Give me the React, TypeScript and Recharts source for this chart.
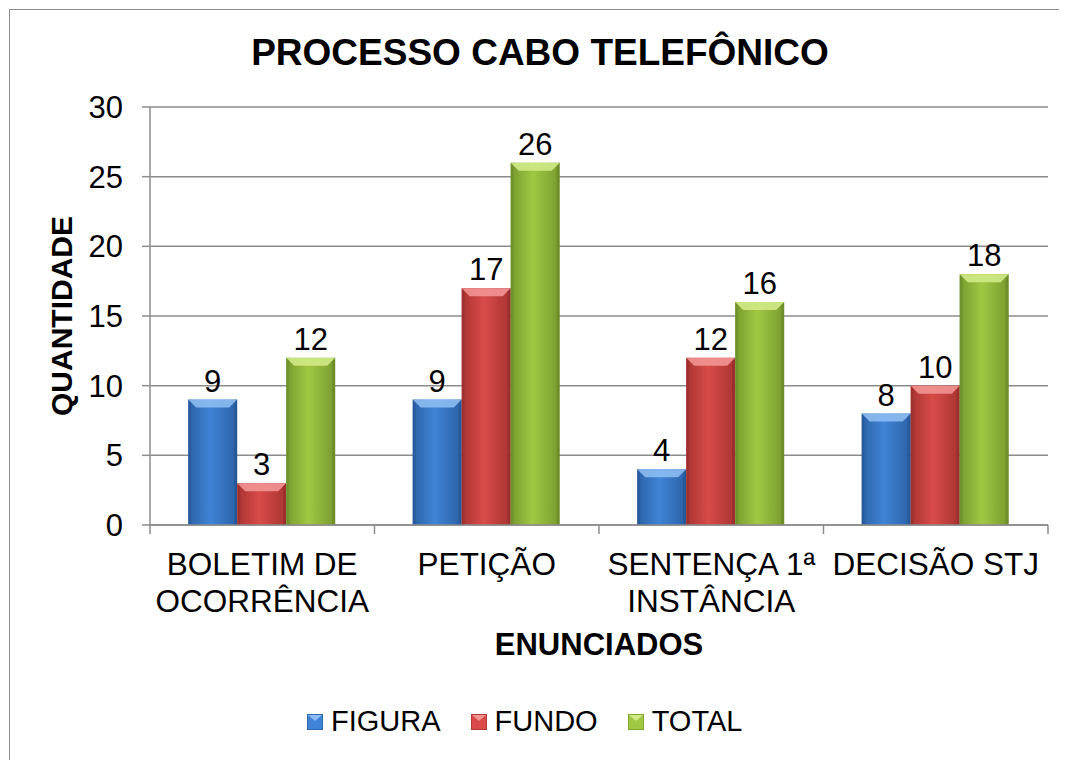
import React from 'react';
import { BarChart, Bar, XAxis, YAxis, CartesianGrid, LabelList, Label } from 'recharts';

const categories = ['BOLETIM DE\nOCORRÊNCIA', 'PETIÇÃO', 'SENTENÇA 1ª\nINSTÂNCIA', 'DECISÃO STJ'];
const figura = [9, 9, 4, 8];
const fundo = [3, 17, 12, 10];
const total = [12, 26, 16, 18];
const yTicks = [0, 5, 10, 15, 20, 25, 30];

const FONT = '"Liberation Sans", Arial, sans-serif';
const W = 1059;
const H = 752;
const MARGIN = { top: 99, right: 19, bottom: 135, left: 0 };
const Y_AXIS_W = 142;
const X_AXIS_H = 100;
const PLOT_W = W - MARGIN.left - MARGIN.right - Y_AXIS_W;
const BAND = PLOT_W / categories.length;
const GRAY = '#8c8c8c';

const series = [
  { key: 'figura', name: 'FIGURA', mid: '#3f84d6', edge: '#2c61a6', light: '#8cbcf2', dark: '#1f4d8a' },
  { key: 'fundo', name: 'FUNDO', mid: '#d84b48', edge: '#a83432', light: '#f29592', dark: '#8a2826' },
  { key: 'total', name: 'TOTAL', mid: '#a0c843', edge: '#789a2f', light: '#d0ea86', dark: '#5f7d22' },
];

const data = categories.map((name, i) => ({
  name,
  figura: figura[i],
  fundo: fundo[i],
  total: total[i],
}));

type S = (typeof series)[number];

const BevelBar = (props: any) => {
  const { x, y, width, height, s } = props as { x: number; y: number; width: number; height: number; s: S };
  if (!height || height <= 0) return <g />;
  const b = Math.min(8, width / 5, height / 2);
  const e = Math.min(3, width / 8);
  return (
    <g>
      <rect x={x} y={y} width={width} height={height} fill={`url(#g-${s.key})`} />
      <rect x={x} y={y} width={e} height={height} fill={s.dark} opacity={0.35} />
      <rect x={x + width - e} y={y} width={e} height={height} fill={s.dark} opacity={0.45} />
      <polygon
        points={`${x},${y} ${x + width},${y} ${x + width - b},${y + b} ${x + b},${y + b}`}
        fill={s.light}
        opacity={0.9}
      />
    </g>
  );
};

const CategoryTick = (props: any) => {
  const { x, y, payload, index } = props;
  const lines = String(payload.value).split('\n');
  const left = x - BAND / 2;
  return (
    <g>
      <line x1={left} y1={y} x2={left} y2={y + 9} stroke={GRAY} strokeWidth={1.5} />
      {index === categories.length - 1 && (
        <line x1={x + BAND / 2} y1={y} x2={x + BAND / 2} y2={y + 9} stroke={GRAY} strokeWidth={1.5} />
      )}
      {lines.map((ln, i) => (
        <text key={i} x={x} y={y + 50 + i * 37} textAnchor="middle" fontSize={31.5} fontFamily={FONT} fill="#000">
          {ln}
        </text>
      ))}
    </g>
  );
};

const LegendIcon = ({ s }: { s: S }) => (
  <svg width={16} height={16} style={{ marginRight: 8 }}>
    <rect x={0} y={0} width={16} height={16} fill={s.mid} />
    <rect x={0} y={0} width={16} height={16} fill="none" stroke={s.edge} strokeWidth={1.5} />
    <polygon points="1,1 15,1 8,7" fill={s.light} />
  </svg>
);

export default function App() {
  return (
    <div style={{ position: 'relative', width: W, height: H, background: '#fff', fontFamily: FONT, overflow: 'hidden' }}>
      <div
        style={{
          position: 'absolute',
          left: 1,
          top: 1,
          width: W - 1,
          height: H - 1,
          borderLeft: `1.5px solid ${GRAY}`,
          borderTop: `1.5px solid ${GRAY}`,
          boxSizing: 'border-box',
        }}
      />
      <div
        style={{
          position: 'absolute',
          left: 0,
          top: 26,
          width: 1064,
          textAlign: 'center',
          fontSize: 37,
          lineHeight: '37px',
          fontWeight: 'bold',
          color: '#000',
        }}
      >
        PROCESSO CABO TELEFÔNICO
      </div>
      <BarChart width={W} height={H} data={data} margin={MARGIN} barCategoryGap="17%" barGap={0}>
        <defs>
          {series.map((s) => (
            <linearGradient key={s.key} id={`g-${s.key}`} x1="0" y1="0" x2="1" y2="0">
              <stop offset="0%" stopColor={s.edge} />
              <stop offset="45%" stopColor={s.mid} />
              <stop offset="100%" stopColor={s.edge} />
            </linearGradient>
          ))}
        </defs>
        <CartesianGrid vertical={false} stroke={GRAY} strokeWidth={1.5} />
        <XAxis
          dataKey="name"
          height={X_AXIS_H}
          interval={0}
          tickSize={0}
          tickMargin={0}
          tickLine={false}
          axisLine={{ stroke: GRAY, strokeWidth: 1.5 }}
          tick={<CategoryTick />}
        >
          <Label
            content={(p: any) => {
              const vb = p.viewBox;
              return (
                <text
                  x={vb.x + vb.width / 2}
                  y={vb.y + 130}
                  textAnchor="middle"
                  fontSize={31}
                  fontWeight="bold"
                  fontFamily={FONT}
                  fill="#000"
                >
                  ENUNCIADOS
                </text>
              );
            }}
          />
        </XAxis>
        <YAxis
          width={Y_AXIS_W}
          domain={[0, 30]}
          ticks={yTicks}
          interval={0}
          tickSize={8}
          tickMargin={19}
          axisLine={{ stroke: GRAY, strokeWidth: 1.5 }}
          tickLine={{ stroke: GRAY, strokeWidth: 1.5 }}
          tick={{ fontSize: 31, fill: '#000', fontFamily: FONT }}
        >
          <Label
            content={(p: any) => {
              const vb = p.viewBox;
              const cx = vb.x + 53;
              const cy = vb.y + vb.height / 2;
              return (
                <text
                  x={cx}
                  y={cy}
                  transform={`rotate(-90 ${cx} ${cy})`}
                  textAnchor="middle"
                  dominantBaseline="central"
                  fontSize={30}
                  fontWeight="bold"
                  fontFamily={FONT}
                  fill="#000"
                >
                  QUANTIDADE
                </text>
              );
            }}
          />
        </YAxis>
        {series.map((s) => (
          <Bar
            key={s.key}
            dataKey={s.key}
            name={s.name}
            isAnimationActive={false}
            shape={(p: any) => <BevelBar {...p} s={s} />}
          >
            <LabelList dataKey={s.key} position="top" offset={8} fontSize={31} fill="#000" fontFamily={FONT} />
          </Bar>
        ))}
      </BarChart>
      <div
        style={{
          position: 'absolute',
          left: 299,
          top: 699,
          display: 'flex',
          alignItems: 'center',
          fontSize: 29,
          lineHeight: '29px',
          color: '#000',
        }}
      >
        {series.map((s) => (
          <div key={s.key} style={{ display: 'flex', alignItems: 'center', marginRight: 30 }}>
            <LegendIcon s={s} />
            <span>{s.name}</span>
          </div>
        ))}
      </div>
    </div>
  );
}
